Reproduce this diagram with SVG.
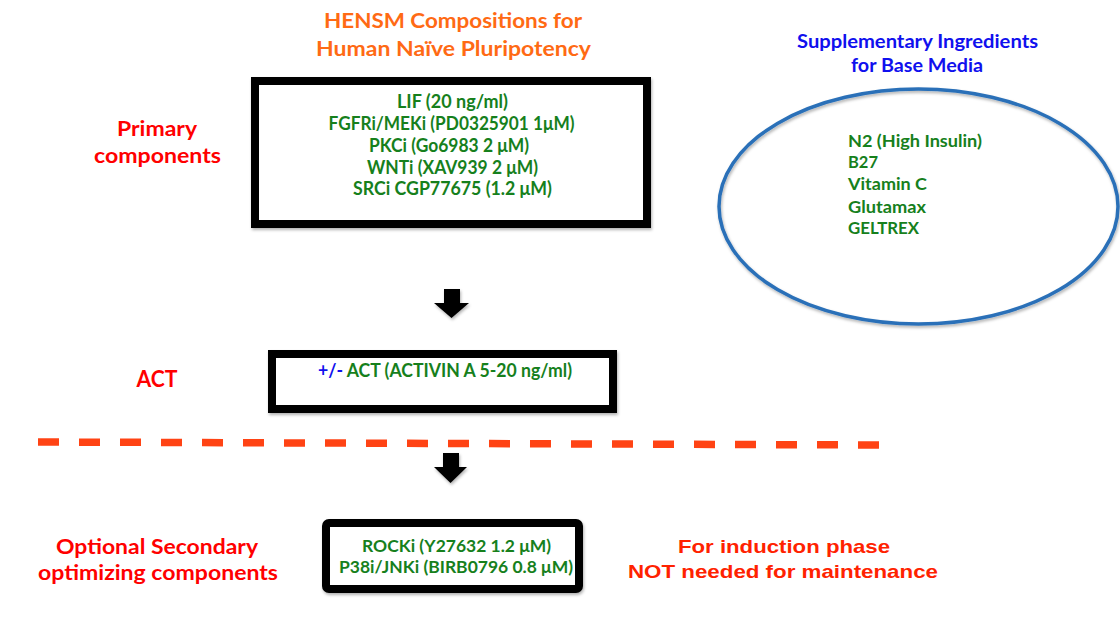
<svg xmlns="http://www.w3.org/2000/svg" width="1120" height="626" viewBox="0 0 1120 626">
<style>
.cal{font-family:Lato,"Liberation Sans",sans-serif;font-weight:bold}
.hel{font-family:"Liberation Sans",Arial,sans-serif;font-weight:bold}
.grn{fill:#16801c}
.red{fill:#ff0000}
.box{fill:#ffffff;stroke:#000000;stroke-width:8}
.arrow{fill:#000000}
</style>
<defs>
<filter id="sh" x="-20%" y="-20%" width="140%" height="140%">
<feDropShadow dx="1" dy="2" stdDeviation="1.5" flood-color="#000" flood-opacity="0.3"/>
</filter>
</defs>
<rect width="1120" height="626" fill="#ffffff"/>

<g id="title">
<text class="cal" font-size="20" fill="#ff6a14" text-anchor="middle" x="453" y="28" textLength="258" lengthAdjust="spacingAndGlyphs">HENSM Compositions for</text>
<text class="cal" font-size="20" fill="#ff6a14" text-anchor="middle" x="453.5" y="56" textLength="275" lengthAdjust="spacingAndGlyphs">Human Naïve Pluripotency</text>
</g>

<g id="label-primary">
<text class="cal red" font-size="21" text-anchor="middle" x="157" y="136" textLength="80" lengthAdjust="spacingAndGlyphs">Primary</text>
<text class="cal red" font-size="21" text-anchor="middle" x="157.5" y="163" textLength="127" lengthAdjust="spacingAndGlyphs">components</text>
</g>

<g id="primary-box">
<rect class="box" x="255" y="81" width="392" height="143" stroke-width="6" filter="url(#sh)"/>
<text class="cal grn" font-size="18" text-anchor="middle" x="452.5" y="108" textLength="111" lengthAdjust="spacingAndGlyphs">LIF (20 ng/ml)</text>
<text class="cal grn" font-size="18" text-anchor="middle" x="451.5" y="130" textLength="246" lengthAdjust="spacingAndGlyphs">FGFRi/MEKi (PD0325901 1μM)</text>
<text class="cal grn" font-size="18" text-anchor="middle" x="449" y="152" textLength="160" lengthAdjust="spacingAndGlyphs">PKCi (Go6983 2 μM)</text>
<text class="cal grn" font-size="18" text-anchor="middle" x="452.5" y="174" textLength="171" lengthAdjust="spacingAndGlyphs">WNTi (XAV939 2 μM)</text>
<text class="cal grn" font-size="18" text-anchor="middle" x="452.5" y="195" textLength="199" lengthAdjust="spacingAndGlyphs">SRCi CGP77675 (1.2 μM)</text>
</g>

<g id="supplementary">
<text class="cal" font-size="18" fill="#1010ee" text-anchor="middle" x="917.5" y="48" textLength="241" lengthAdjust="spacingAndGlyphs">Supplementary Ingredients</text>
<text class="cal" font-size="18" fill="#1010ee" text-anchor="middle" x="917" y="72" textLength="132" lengthAdjust="spacingAndGlyphs">for Base Media</text>
<ellipse cx="918.5" cy="206.5" rx="199.5" ry="117.5" fill="none" stroke="#2a70b8" stroke-width="3.5" filter="url(#sh)"/>
<text class="cal grn" font-size="17" x="848" y="147" textLength="134" lengthAdjust="spacingAndGlyphs">N2 (High Insulin)</text>
<text class="cal grn" font-size="17" x="848" y="168" textLength="30" lengthAdjust="spacingAndGlyphs">B27</text>
<text class="cal grn" font-size="17" x="848" y="190" textLength="79" lengthAdjust="spacingAndGlyphs">Vitamin C</text>
<text class="cal grn" font-size="17" x="848" y="213" textLength="78" lengthAdjust="spacingAndGlyphs">Glutamax</text>
<text class="cal grn" font-size="17" x="848" y="234" textLength="71" lengthAdjust="spacingAndGlyphs">GELTREX</text>
</g>

<g id="label-act">
<text class="cal red" font-size="22" text-anchor="middle" x="157" y="387" textLength="41" lengthAdjust="spacingAndGlyphs">ACT</text>
</g>

<g id="act-box">
<rect class="box" x="272" y="354" width="341" height="55" filter="url(#sh)"/>
<text class="cal" font-size="18" x="318" y="377" textLength="254" lengthAdjust="spacingAndGlyphs"><tspan fill="#1010ee">+/- </tspan><tspan class="grn">ACT (ACTIVIN A 5-20 ng/ml)</tspan></text>
</g>

<g id="label-optional">
<text class="cal red" font-size="20" text-anchor="middle" x="157" y="554" textLength="202" lengthAdjust="spacingAndGlyphs">Optional Secondary</text>
<text class="cal red" font-size="20" text-anchor="middle" x="158" y="580" textLength="240" lengthAdjust="spacingAndGlyphs">optimizing components</text>
</g>

<g id="secondary-box">
<rect class="box" x="326" y="523" width="253" height="66" rx="3" filter="url(#sh)"/>
<text class="cal grn" font-size="17.5" text-anchor="middle" x="456.5" y="552" textLength="189" lengthAdjust="spacingAndGlyphs">ROCKi (Y27632 1.2 μM)</text>
<text class="cal grn" font-size="17.5" text-anchor="middle" x="456" y="573" textLength="234" lengthAdjust="spacingAndGlyphs">P38i/JNKi (BIRB0796 0.8 μM)</text>
</g>

<g id="label-induction">
<text class="hel" font-size="19" fill="#ff2200" text-anchor="middle" x="784" y="553" textLength="212" lengthAdjust="spacingAndGlyphs">For induction phase</text>
<text class="hel" font-size="19" fill="#ff2200" text-anchor="middle" x="783" y="578" textLength="310" lengthAdjust="spacingAndGlyphs">NOT needed for maintenance</text>
</g>

<g id="connectors">
<line x1="38" y1="442" x2="879" y2="445" stroke="#ff4314" stroke-width="7.5" stroke-dasharray="21 20"/>
<polygon class="arrow" filter="url(#sh)" points="444,289 460,289 460,303 469,303 451.5,318 434,303 444,303"/>
<polygon class="arrow" filter="url(#sh)" points="443,453 459,453 459,467 467,467 450.5,483 434,467 443,467"/>
</g>
</svg>
